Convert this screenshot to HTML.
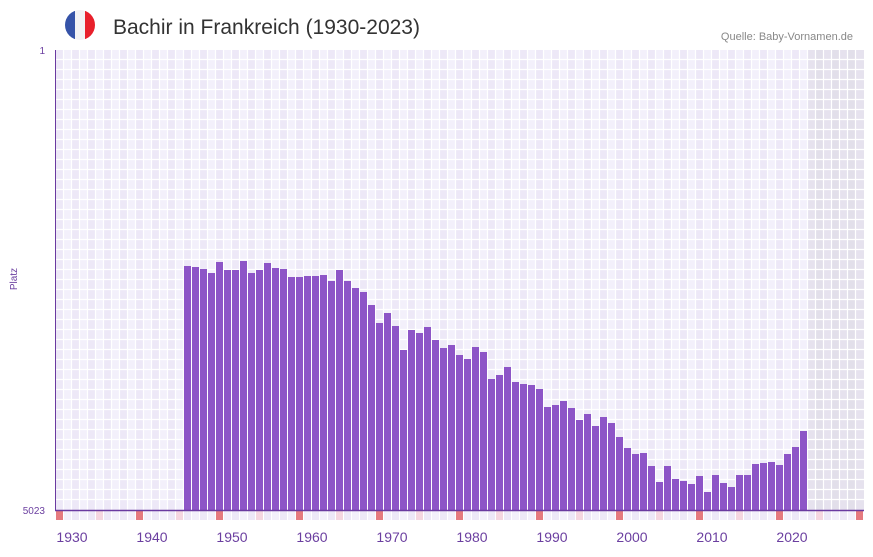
<!DOCTYPE html>
<html><head><meta charset="utf-8"><style>
body{margin:0;background:#fff;width:873px;height:552px;overflow:hidden;font-family:"Liberation Sans",sans-serif}
</style></head><body>
<svg id="s" width="873" height="552" xmlns="http://www.w3.org/2000/svg">
<defs><clipPath id="fc"><circle cx="80" cy="25" r="15"/></clipPath></defs>
<g clip-path="url(#fc)"><rect x="65" y="10" width="10" height="30" fill="#3553a8"/><rect x="75" y="10" width="10" height="30" fill="#f2f2f4"/><rect x="85" y="10" width="10" height="30" fill="#e8202b"/></g>
<text x="113" y="34" font-size="21" fill="#333">Bachir in Frankreich (1930-2023)</text>
<text x="853" y="40" font-size="11" fill="#888" text-anchor="end">Quelle: Baby-Vornamen.de</text>
<text x="45" y="54" font-size="10" fill="#6b3fa0" text-anchor="end">1</text>
<text x="45" y="514" font-size="10" fill="#6b3fa0" text-anchor="end">5023</text>
<text transform="translate(17,279) rotate(-90)" font-size="10" fill="#6b3fa0" text-anchor="middle">Platz</text>
<g id="g"></g>
</svg>
<script>
var g=document.getElementById('g'),h='';
for(var i=0;i<101;i++){var x=56+8*i;var sh=i>=94;
 var c=sh?(i%2?'#e2dfea':'#e6e2ee'):(i%2?'#f3f0fb':'#ede8f7');
 h+='<rect x="'+x+'" y="50" width="8" height="460" fill="'+c+'"/>';
 var m=i%10==0?'#e57a7f':(i%10==5?'#f5d6e0':(i%2?'#f3f0fb':'#ede8f7'));
 h+='<rect x="'+x+'" y="511" width="7" height="9" fill="'+m+'"/>';}
for(var i=1;i<101;i++){h+='<line x1="'+(56+8*i-0.5)+'" y1="50" x2="'+(56+8*i-0.5)+'" y2="510" stroke="#fff" stroke-width="1.2"/>';}
for(var y=60;y<510;y+=10){h+='<line x1="56" y1="'+(y-0.5)+'" x2="864" y2="'+(y-0.5)+'" stroke="#fff" stroke-width="1.2"/>';}
var t=[266,267,269,273,262,270,270,261,273,270,263,268,269,277,277,276,276,275,281,270,281,288,292,305,323,313,326,350,330,333,327,340,348,345,355,359,347,352,379,375,367,382,384,385,389,407,405,401,408,420,414,426,417,423,437,448,454,453,466,482,466,479,481,484,476,492,475,483,487,475,475,464,463,462,465,454,447,431];
for(var i=0;i<t.length;i++){h+='<rect x="'+(184+8*i)+'" y="'+t[i]+'" width="7" height="'+(510-t[i])+'" fill="#8d55c7"/>';}
h+='<line x1="55.5" y1="50" x2="55.5" y2="511" stroke="#6a3aa0" stroke-width="1"/>';
h+='<line x1="55" y1="510.5" x2="864" y2="510.5" stroke="#6a3aa0" stroke-width="1.5"/>';
for(var k=0;k<10;k++){h+='<text x="'+(72+80*k)+'" y="542" font-size="14" fill="#6b3fa0" text-anchor="middle">'+(1930+10*k)+'</text>';}
g.innerHTML=h;
</script>
</body></html>
